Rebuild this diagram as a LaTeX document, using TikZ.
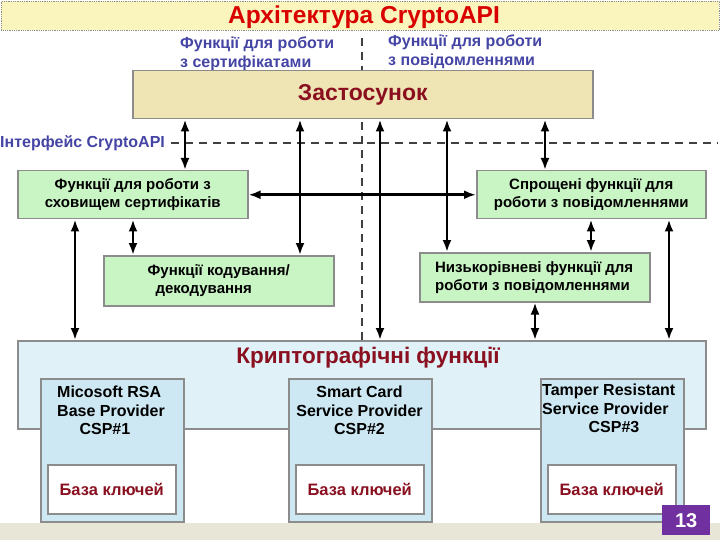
\documentclass[tikz,border=0pt]{standalone}
\usepackage{fontspec}
\setmainfont{Liberation Sans}
\usetikzlibrary{arrows.meta}
\definecolor{titlered}{HTML}{D90000}
\definecolor{dred}{HTML}{8A1020}
\definecolor{lblue}{HTML}{4545A5}
\definecolor{tanfill}{HTML}{EFE4B4}
\definecolor{gfill}{HTML}{C9F5C4}
\definecolor{cfill}{HTML}{E1F1F8}
\definecolor{cspfill}{HTML}{CDE8F2}
\definecolor{bord}{HTML}{8C8C8C}
\definecolor{purp}{HTML}{7030A0}
\definecolor{tbfill}{HTML}{FAF5BC}
\definecolor{botfill}{HTML}{E8E7D7}
\tikzset{
  box/.style={draw=bord, line width=1.5pt, anchor=north west, inner sep=0pt},
  gbox/.style={box, fill=gfill, font=\bfseries\fontsize{15}{18}\selectfont, align=center},
  dbl/.style={line width=2.6pt, {Latex[length=12pt,width=9pt]}-{Latex[length=12pt,width=9pt]}},
  dsh/.style={line width=2pt, draw=black!75, dash pattern=on 8pt off 6pt},
  lbl/.style={font=\bfseries\fontsize{16}{19}\selectfont, text=lblue, align=left, anchor=north west, inner sep=0pt},
  csp/.style={box, fill=cspfill, minimum width=143pt, minimum height=143pt},
  kbox/.style={box, fill=white, minimum width=128pt, minimum height=49pt, font=\bfseries\fontsize{16.5}{19}\selectfont, text=dred},
  csptxt/.style={font=\bfseries\fontsize{16}{18.5}\selectfont, anchor=north west, inner sep=0pt, align=left}
}
\begin{document}
\begin{tikzpicture}[x=1pt,y=-1pt]
\useasboundingbox (0,0) rectangle (720,540);
\fill[white] (0,0) rectangle (720,540);
% title band
\node[draw=black!45, densely dotted, line width=0.8pt, fill=tbfill, minimum width=718pt, minimum height=29pt, anchor=north west, inner sep=0pt] (tband) at (1,1) {};
\node[font=\bfseries\fontsize{24.5}{28}\selectfont, text=titlered] (title) at (364,17) {Архітектура CryptoAPI};
% bottom band
\fill[botfill] (0,523) rectangle (720,540);
% top labels
\node[lbl] (lab1) at (180,37) {Функції для роботи\\з сертифікатами};
\node[lbl] (lab2) at (388,35) {Функції для роботи\\з повідомленнями};
% dashed lines
\coordinate (vtop) at (362,38);
\coordinate (vbot) at (362,340);
\draw[dsh] (vtop) -- (vbot);
\node[lbl, anchor=west] (iface) at (0,143) {Інтерфейс CryptoAPI};
\coordinate (hend) at (718,143);
\draw[dsh] (iface.east) ++(6,0) -- (hend);
% application box
\node[box, fill=tanfill, minimum width=460pt, minimum height=48pt, font=\bfseries\fontsize{23}{26}\selectfont, text=dred] (app) at (132,70) {Застосунок};
% green boxes
\node[gbox, minimum width=230pt, minimum height=48pt] (g1) at (17,170) {Функції для роботи з\\сховищем сертифікатів};
\node[gbox, minimum width=230pt, minimum height=50pt] (g2) at (103,255) {Функції кодування/\\декодування\hspace*{2em}};
\node[gbox, minimum width=229pt, minimum height=48pt] (g3) at (476,170) {Спрощені функції для\\роботи з повідомленнями};
\node[gbox, minimum width=230pt, minimum height=49pt, align=left] (g4) at (419,252) {Низькорівневі функції для\\роботи з повідомленнями\hspace*{0.3em}};
% crypto box
\node[box, fill=cfill, minimum width=688pt, minimum height=88pt] (cr) at (17,340) {};
\node[font=\bfseries\fontsize{22.5}{26}\selectfont, text=dred] (crt) at (368,358) {Криптографічні функції};
% CSP boxes
\node[csp] (c1) at (40,378) {};
\node[csp] (c2) at (288,378) {};
\node[csp] (c3) at (540,378) {};
\node[kbox] (k1) at (47,464) {База ключей};
\node[kbox] (k2) at (295,464) {База ключей};
\node[kbox] (k3) at (547,464) {База ключей};
\node[csptxt] (t1) at (57,386) {Micosoft RSA\\Base Provider\\\hspace*{1.4em}CSP\#1};
\node[csptxt, align=center, anchor=north] (t2) at (359.5,386) {Smart Card\\Service Provider\\CSP\#2};
\node[csptxt] (t3) at (542,384) {Tamper Resistant\\Service Provider\\\hspace*{2.9em}CSP\#3};
% slide number
\node[fill=purp, minimum width=48pt, minimum height=30pt, inner sep=0pt, text=white, font=\bfseries\fontsize{20}{22}\selectfont, anchor=north west] (num) at (662,505) {13};
% arrows
\coordinate (xa) at (185,0);
\coordinate (xb) at (300,0);
\coordinate (xc) at (380,0);
\coordinate (xd) at (447,0);
\coordinate (xe) at (545,0);
\coordinate (xf) at (75,0);
\coordinate (xg) at (133,0);
\coordinate (xh) at (591,0);
\coordinate (xi) at (669,0);
\coordinate (xj) at (535,0);
\draw[dbl] (app.south -| xa) -- (g1.north -| xa);
\draw[dbl] (app.south -| xb) -- (g2.north -| xb);
\draw[dbl] (app.south -| xc) -- (cr.north -| xc);
\draw[dbl] (app.south -| xd) -- (g4.north -| xd);
\draw[dbl] (app.south -| xe) -- (g3.north -| xe);
\draw[dbl] (g1.east) -- (g3.west);
\draw[dbl] (g1.south -| xf) -- (cr.north -| xf);
\draw[dbl] (g1.south -| xg) -- (g2.north -| xg);
\draw[dbl] (g3.south -| xh) -- (g4.north -| xh);
\draw[dbl] (g3.south -| xi) -- (cr.north -| xi);
\draw[dbl] (g4.south -| xj) -- (cr.north -| xj);
\end{tikzpicture}
\end{document}
